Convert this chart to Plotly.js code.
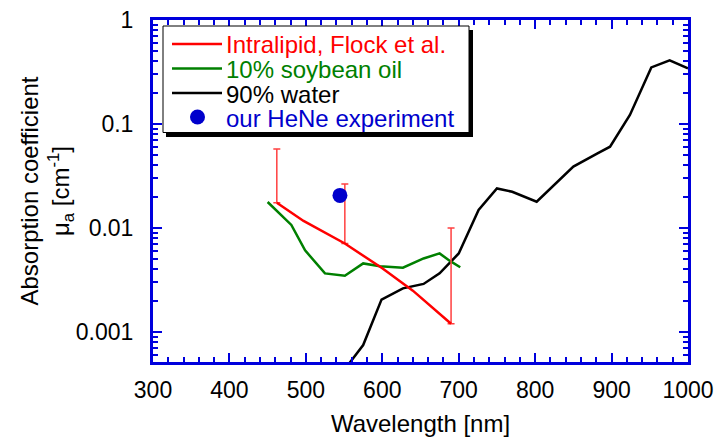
<!DOCTYPE html>
<html>
<head>
<meta charset="utf-8">
<script src="https://cdn.plot.ly/plotly-3.0.1.min.js"></script>
<style>html,body{margin:0;padding:0;background:#fff;}#chart{width:718px;height:441px;}</style>
</head>
<body>
<div id="chart"></div>
<script>
// ---- Data ----
var intralipidWl = [462, 497, 551, 600, 640, 690];
var intralipidMu = [0.0175, 0.0117, 0.0071, 0.0041, 0.0025, 0.0012];

var errWl = [462, 551, 690];
var errBase = [0.0175, 0.0071, 0.0012];
var errPlus = [0.040, 0.0194, 0.0088];

var soyWl = [450, 481, 499, 525, 551, 575, 597, 627, 654, 675, 689, 702];
var soyMu = [0.0178, 0.0107, 0.0061, 0.00366, 0.00348, 0.00457, 0.0043, 0.00416, 0.0051, 0.0057, 0.0048, 0.0042];

var waterWl = [550, 575, 599, 627, 654, 675, 700, 726, 750, 770, 802, 850, 881, 898, 924, 952, 976, 1000];
var waterMu = [0.00043, 0.00075, 0.00205, 0.00263, 0.0029, 0.00367, 0.0057, 0.0149, 0.024, 0.0223, 0.0179, 0.039, 0.052, 0.0605, 0.122, 0.35, 0.41, 0.343];

var heneWl = [544.6];
var heneMu = [0.0206];

var xTickVals = [300, 400, 500, 600, 700, 800, 900, 1000];
var yTickVals = [0.001, 0.01, 0.1, 1];
var yTickText = ['0.001', '0.01', '0.1', '1'];

var legendNames = ['Intralipid, Flock et al.', '10% soybean oil', '90% water', 'our HeNe experiment'];
var legendColors = ['#ff0000', '#008000', '#000000', '#0000cc'];

// ---- Layout helpers (pixel -> paper) ----
var W = 718, H = 441;
var mL = 153, mR = 30, mT = 20, mB = 79;
var pw = W - mL - mR, ph = H - mT - mB;
function px(x) { return (x - mL) / pw; }
function py(y) { return (H - mB - y) / ph; }

var yMinor = [];
[0.0001, 0.001, 0.01, 0.1].forEach(function (d) {
  for (var k = 2; k <= 9; k++) yMinor.push(d * k);
});

var axisBlue = '#0000dd';
var fontFam = 'Liberation Sans, Arial, Helvetica, sans-serif';

var traces = [
  {x: waterWl, y: waterMu, type: 'scatter', mode: 'lines', line: {color: '#000000', width: 2.5}, name: legendNames[2], showlegend: false},
  {x: soyWl, y: soyMu, type: 'scatter', mode: 'lines', line: {color: '#008000', width: 2.5}, name: legendNames[1], showlegend: false},
  {x: errWl, y: errBase, type: 'scatter', mode: 'markers', marker: {size: 1, color: 'rgba(0,0,0,0)'},
   error_y: {type: 'data', symmetric: false, array: errPlus, arrayminus: [0, 0, 0], color: '#ff4040', thickness: 1.5, width: 3.5},
   showlegend: false, hoverinfo: 'skip'},
  {x: intralipidWl, y: intralipidMu, type: 'scatter', mode: 'lines', line: {color: '#ff0000', width: 2.5}, name: legendNames[0], showlegend: false},
  {x: heneWl, y: heneMu, type: 'scatter', mode: 'markers', marker: {color: '#0000cc', size: 15}, name: legendNames[3], showlegend: false}
];

// manual legend
var rowsY = [44, 68.5, 93, 117];
var shapes = [
  {type: 'rect', xref: 'paper', yref: 'paper', x0: px(166), x1: px(473), y0: py(30), y1: py(137), fillcolor: '#000', line: {width: 0}, layer: 'above'},
  {type: 'rect', xref: 'paper', yref: 'paper', x0: px(163), x1: px(469), y0: py(26), y1: py(132.5), fillcolor: '#fff', line: {width: 1, color: '#000'}, layer: 'above'}
];
var annotations = [];
for (var i = 0; i < 4; i++) {
  if (i < 3) {
    shapes.push({type: 'line', xref: 'paper', yref: 'paper', x0: px(172), x1: px(222), y0: py(rowsY[i]), y1: py(rowsY[i]), line: {color: legendColors[i], width: 2.5}, layer: 'above'});
  } else {
    shapes.push({type: 'circle', xref: 'paper', yref: 'paper', x0: px(190), x1: px(205), y0: py(rowsY[i] + 7.5), y1: py(rowsY[i] - 7.5), fillcolor: legendColors[i], line: {width: 0}, layer: 'above'});
  }
  annotations.push({xref: 'paper', yref: 'paper', x: px(224), y: py(rowsY[i] + 1), xanchor: 'left', yanchor: 'middle', showarrow: false,
    text: legendNames[i], font: {family: fontFam, size: 24, color: legendColors[i]}});
}

var layout = {
  width: W, height: H,
  margin: {l: mL, r: mR, t: mT, b: mB, pad: 0},
  paper_bgcolor: '#fff', plot_bgcolor: '#fff',
  showlegend: false,
  font: {family: fontFam, color: '#000'},
  xaxis: {
    range: [300, 1000], tickmode: 'array', tickvals: xTickVals,
    ticks: 'inside', ticklen: 9, tickwidth: 2, tickcolor: axisBlue,
    showline: true, linecolor: axisBlue, linewidth: 3, mirror: 'allticks',
    showgrid: false, zeroline: false,
    minor: {ticks: 'inside', ticklen: 5, tickwidth: 2, tickcolor: axisBlue, tick0: 300, dtick: 20, showgrid: false},
    tickfont: {family: fontFam, size: 23, color: '#000'},
    ticklabelstandoff: 5,
    title: {text: 'Wavelength [nm]', font: {family: fontFam, size: 24, color: '#000'}, standoff: 14}
  },
  yaxis: {
    type: 'log', range: [-3.288, 0],
    tickmode: 'array', tickvals: yTickVals, ticktext: yTickText,
    ticks: 'inside', ticklen: 9, tickwidth: 2, tickcolor: axisBlue,
    showline: true, linecolor: axisBlue, linewidth: 3, mirror: 'allticks',
    showgrid: false, zeroline: false,
    minor: {ticks: 'inside', ticklen: 5, tickwidth: 2, tickcolor: axisBlue, tickmode: 'array', tickvals: yMinor, showgrid: false},
    tickfont: {family: fontFam, size: 23, color: '#000'},
    ticklabelstandoff: 12,
    title: {text: 'Absorption coefficient<br>μ<sub>a</sub> [cm<sup>-1</sup>]', font: {family: fontFam, size: 24, color: '#000'}, standoff: 0}
  },
  shapes: shapes,
  annotations: annotations
};

Plotly.newPlot('chart', traces, layout, {displayModeBar: false, staticPlot: true});
</script>
</body>
</html>
